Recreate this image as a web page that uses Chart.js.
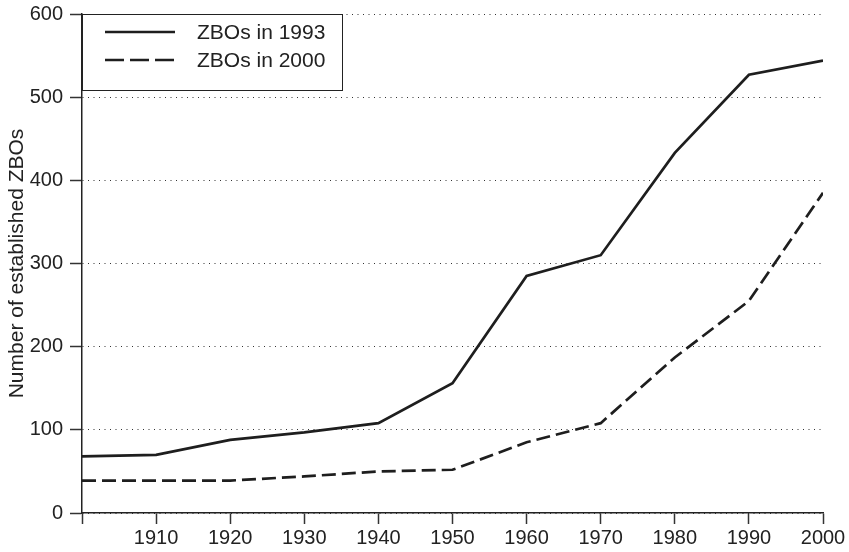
<!DOCTYPE html>
<html>
<head>
<meta charset="utf-8">
<script src="https://cdn.jsdelivr.net/npm/chart.js@4"></script>
<style>
  html, body { margin: 0; padding: 0; background: #fff; }
  #wrap { width: 849px; height: 552px; }
</style>
</head>
<body>
<div id="wrap"><canvas id="myChart" width="849" height="552"></canvas></div>
<script>
const years = [1900, 1910, 1920, 1930, 1940, 1950, 1960, 1970, 1980, 1990, 2000];
const zbos1993 = [68, 70, 88, 97, 108, 156, 285, 310, 433, 527, 544];
const zbos2000 = [39, 39, 39, 44, 50, 52, 85, 108, 187, 255, 385];
const seriesLabels = ['ZBOs in 1993', 'ZBOs in 2000'];
const yTitle = 'Number of established ZBOs';

const fontFamily = '"Liberation Sans", Arial, Helvetica, sans-serif';

function toPoints(values){
    return years.map(function(yr, i){ return {x: yr, y: values[i]}; });
}

// boxed key in the top left corner of the plot
const boxLegend = {
    id: 'boxLegend',
    afterDraw(chart){
        const ctx = chart.ctx;
        const area = chart.chartArea;
        const x0 = area.left, y0 = area.top;
        ctx.save();
        ctx.fillStyle = '#fff';
        ctx.fillRect(x0, y0, 260, 76);
        ctx.strokeStyle = '#222';
        ctx.lineWidth = 1;
        ctx.strokeRect(x0 + 0.5, y0 + 0.5, 260, 76);
        chart.data.datasets.forEach(function(ds, i){
            const y = y0 + 18 + i * 28;
            ctx.beginPath();
            ctx.setLineDash(ds.borderDash ? [19, 6] : []);
            ctx.lineWidth = ds.borderWidth;
            ctx.strokeStyle = ds.borderColor;
            ctx.moveTo(x0 + 23, y);
            ctx.lineTo(x0 + 93, y);
            ctx.stroke();
            ctx.setLineDash([]);
            ctx.fillStyle = '#222';
            ctx.font = '21px ' + fontFamily;
            ctx.textBaseline = 'middle';
            ctx.fillText(ds.label, x0 + 115, y + 1);
        });
        ctx.restore();
    }
};

const data = {
    datasets: [{
        label: seriesLabels[0],
        data: toPoints(zbos1993),
        borderColor: '#1e1e1e',
        borderWidth: 2.7,
        pointRadius: 0,
        tension: 0
    }, {
        label: seriesLabels[1],
        data: toPoints(zbos2000),
        borderColor: '#1e1e1e',
        borderWidth: 2.7,
        borderDash: [14, 6],
        pointRadius: 0,
        tension: 0
    }]
};

const tickFont = {family: fontFamily, size: 20};

const config = {
    type: 'line',
    data: data,
    plugins: [boxLegend],
    options: {
        responsive: false,
        animation: false,
        layout: {padding: {left: 0, right: 26, top: 14, bottom: 0}},
        plugins: {legend: {display: false}, tooltip: {enabled: false}},
        scales: {
            x: {
                type: 'linear',
                min: 1900,
                max: 2000,
                afterFit: function(scale){ scale.height = 39; },
                border: {color: '#222', width: 1.5},
                grid: {drawOnChartArea: false, drawTicks: true, tickLength: 11, tickColor: '#333', tickWidth: 1.5},
                ticks: {
                    stepSize: 10,
                    color: '#222',
                    font: tickFont,
                    padding: 2,
                    maxRotation: 0,
                    callback: function(v){ return v === 1900 ? '' : String(v); }
                }
            },
            y: {
                min: 0,
                max: 600,
                afterFit: function(scale){
                    scale.width = 82;
                    scale.paddingTop = 0;
                    scale.paddingBottom = 0;
                },
                border: {color: '#222', width: 1.5, dash: [1, 4.5]},
                grid: {color: '#333', lineWidth: 1, tickBorderDash: [], tickLength: 12, tickColor: '#333', tickWidth: 1.5},
                ticks: {stepSize: 100, color: '#222', font: tickFont, padding: 7},
                title: {display: true, text: yTitle, color: '#222', font: {family: fontFamily, size: 21}, padding: {top: 5, bottom: 0}}
            }
        }
    }
};

const ctx = document.getElementById('myChart').getContext('2d');
const myChart = new Chart(ctx, config);
</script>
</body>
</html>
